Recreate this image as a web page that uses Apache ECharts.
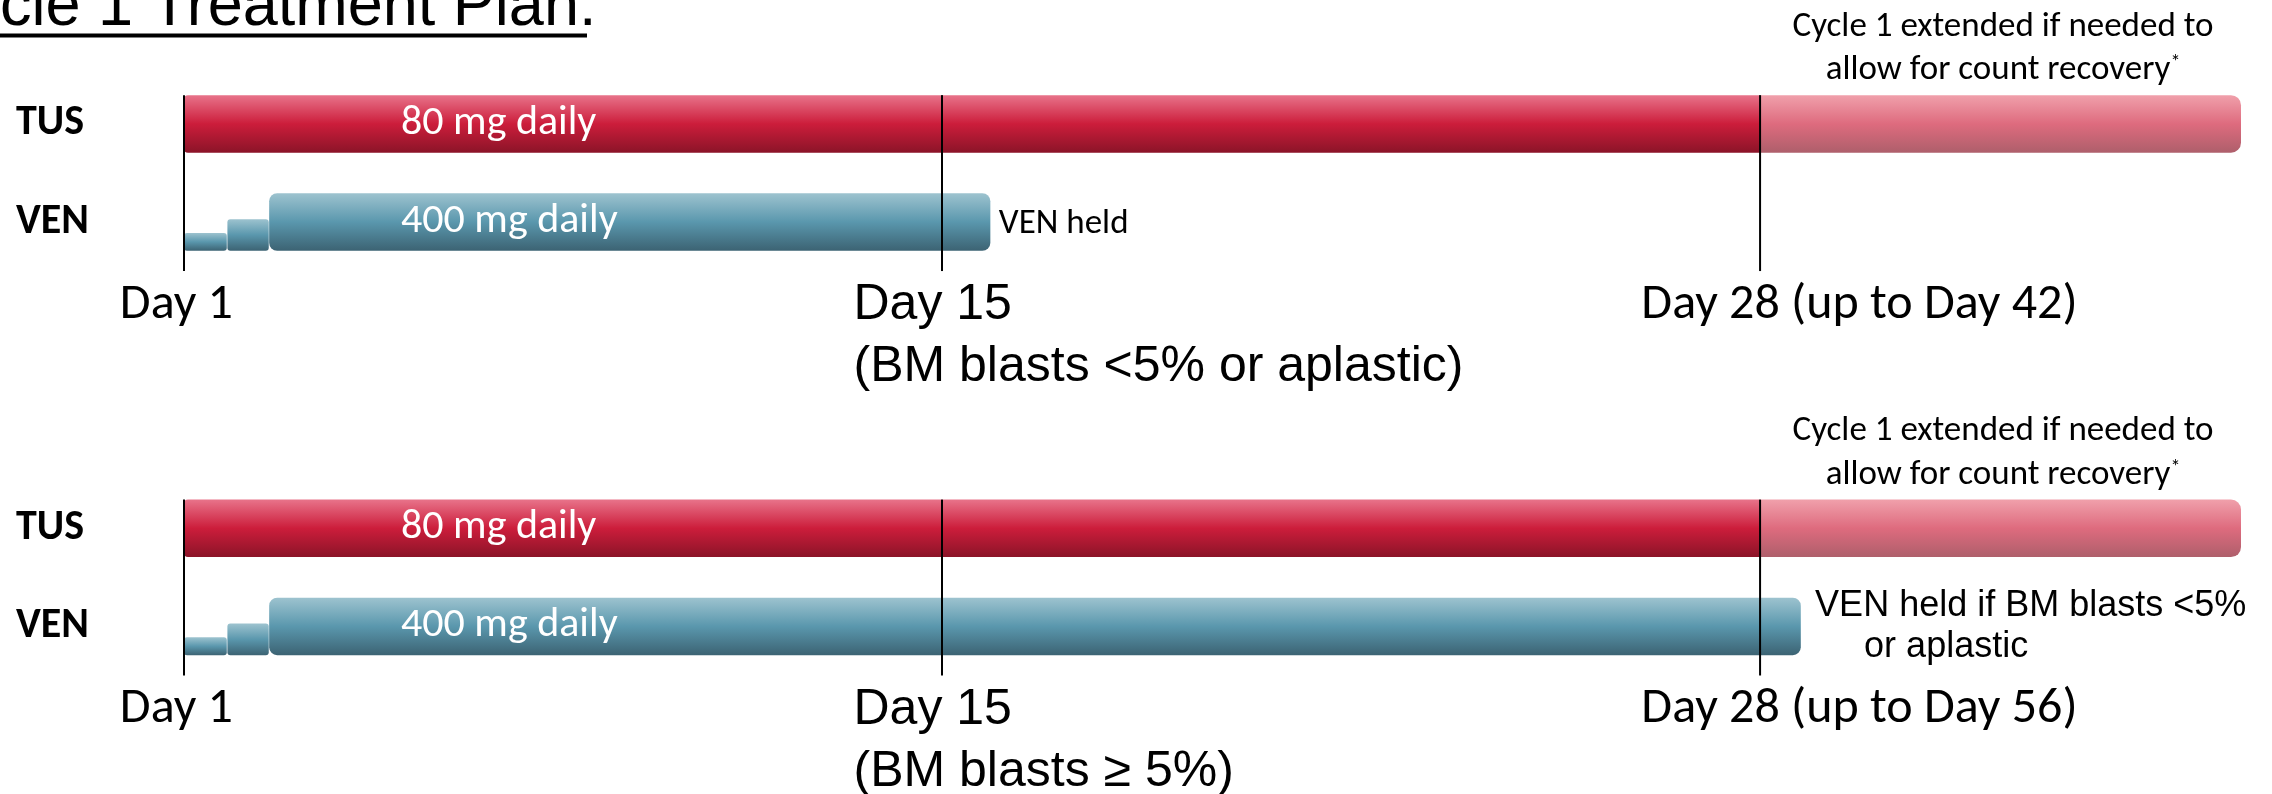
<!DOCTYPE html>
<html>
<head>
<meta charset="utf-8">
<script src="https://cdn.jsdelivr.net/npm/echarts@6/dist/echarts.min.js"></script>
<style>
  html, body { margin: 0; padding: 0; background: #ffffff; }
  #chart { width: 2272px; height: 794px; }
</style>
</head>
<body>
<div id="chart"></div>
<script>
// ---- plan data (timeline in schematic units: 0 = Day 1, 100 = end of the extension window) ----
const ROWS = ['TUS', 'VEN'];

const MILESTONE_POS = [0, 36.85, 76.62];
const MILESTONE_DAYS_A = ['Day 1', 'Day 15', 'Day 28 (up to Day 42)'];
const MILESTONE_NOTES_A = ['', '(BM blasts <5% or aplastic)', ''];
const MILESTONE_DAYS_B = ['Day 1', 'Day 15', 'Day 28 (up to Day 56)'];
const MILESTONE_NOTES_B = ['', '(BM blasts \u2265 5%)', ''];

const TUS_DOSE = [0, 76.62];
const TUS_EXTENSION = [76.62, 100];
const TUS_LABEL = '80 mg daily';
const EXTENSION_NOTE = ['Cycle 1 extended if needed to', 'allow for count recovery', '*'];

// VEN ramp-up: two short steps, then the full dose (relative step height per level)
const VEN_STEP_START = [0, 2.11, 4.14];
const VEN_STEP_END_A = [2.08, 4.12, 39.2];
const VEN_STEP_END_B = [2.08, 4.12, 78.6];
const VEN_STEP_LEVEL = [0.31, 0.55, 1];
const VEN_LABEL = '400 mg daily';
const VEN_NOTE_A = ['VEN held'];
const VEN_NOTE_B = ['VEN held if BM blasts <5%', 'or aplastic'];

const TITLE_TEXT = 'cle 1 Treatment Plan';

// ---- layout & styling ----
const SANS_C = 'Carlito, Lato, sans-serif';
const SANS_A = '"Liberation Sans", Arial, sans-serif';
const PANEL_TOP = [74.85, 479.3];
const PANEL_H = 196.2;
const GRID_LEFT = 184;
const GRID_RIGHT = 31;
const BAR_RATIO = 0.586;
const DOSE_LABEL_AT = 10.55;

const FILLS = {
  tus: () => new echarts.graphic.LinearGradient(0, 0, 0, 1, [
    { offset: 0, color: '#e8738a' }, { offset: 0.5, color: '#cc1d3b' }, { offset: 1, color: '#8b1428' }
  ]),
  ext: () => new echarts.graphic.LinearGradient(0, 0, 0, 1, [
    { offset: 0, color: '#f0a0ab' }, { offset: 0.5, color: '#de6b7e' }, { offset: 1, color: '#ae5f6b' }
  ]),
  ven: () => new echarts.graphic.LinearGradient(0, 0, 0, 1, [
    { offset: 0, color: '#9dc3cf' }, { offset: 0.5, color: '#5a97ad' }, { offset: 1, color: '#3c6373' }
  ])
};

// label placement per milestone: anchor, x offset from the line, y offsets from the axis bottom
const MILESTONE_LABEL_LAYOUT = [
  { align: 'center', dx: -7.6, dy: [34], family: SANS_C, size: 50 },
  { align: 'left', dx: -88.5, dy: [34.4, 96.4], family: SANS_A, size: 50 },
  { align: 'center', dx: 99.4, dy: [34], family: SANS_C, size: 50 }
];

function segmentsFor(venEnd, venNote) {
  const segs = [
    { row: 0, start: TUS_DOSE[0], end: TUS_DOSE[1], level: 1, fill: 'tus', r: [4, 0, 0, 4], label: TUS_LABEL },
    { row: 0, start: TUS_EXTENSION[0], end: TUS_EXTENSION[1], level: 1, fill: 'ext', r: [0, 10, 10, 0], extNote: true }
  ];
  VEN_STEP_START.forEach((s, i) => {
    const last = i === VEN_STEP_START.length - 1;
    segs.push({
      row: 1, start: s, end: venEnd[i], level: VEN_STEP_LEVEL[i], fill: 'ven',
      r: last ? 8 : 3,
      label: last ? VEN_LABEL : null,
      note: last ? venNote : null
    });
  });
  return segs;
}

function textEl(text, x, y, opt) {
  return {
    type: 'text',
    x: x, y: y,
    style: Object.assign({
      text: text,
      fill: '#000000',
      align: 'left',
      verticalAlign: 'middle'
    }, opt)
  };
}

function segmentRenderer(segs) {
  return function (params, api) {
    const seg = segs[params.dataIndex];
    const row = api.value(2);
    const a = api.coord([api.value(0), row]);
    const b = api.coord([api.value(1), row]);
    const fullH = api.size([0, 1])[1] * BAR_RATIO;
    const h = fullH * api.value(3);
    const barTop = a[1] + fullH / 2 - h;
    const children = [{
      type: 'rect',
      shape: { x: a[0], y: barTop, width: b[0] - a[0], height: h, r: seg.r },
      style: { fill: FILLS[seg.fill]() }
    }];
    if (seg.label) {
      const lx = api.coord([DOSE_LABEL_AT, row])[0];
      children.push(textEl(seg.label, lx, a[1] - 0.5, {
        fill: '#ffffff', fontFamily: SANS_C, fontSize: 42
      }));
    }
    if (seg.extNote) {
      const cx = (a[0] + b[0]) / 2 + 2.5;
      children.push(textEl(EXTENSION_NOTE[0], cx, barTop - 67.9, {
        align: 'center', fontFamily: SANS_C, fontSize: 35
      }));
      children.push({
        type: 'text', x: cx, y: barTop - 24.6,
        style: {
          text: '{m|' + EXTENSION_NOTE[1] + '}{s|' + EXTENSION_NOTE[2] + '}',
          align: 'center', verticalAlign: 'middle',
          rich: {
            m: { fontFamily: SANS_C, fontSize: 35, lineHeight: 35, fill: '#000000' },
            s: { fontFamily: SANS_C, fontSize: 20, lineHeight: 20, verticalAlign: 'top', fill: '#000000' }
          }
        }
      });
    }
    if (seg.note) {
      if (seg.note.length === 1) {
        children.push(textEl(seg.note[0], b[0] + 8.5, a[1] + 2, { fontFamily: SANS_C, fontSize: 35 }));
      } else {
        children.push(textEl(seg.note[0], b[0] + 14.3, a[1] - 20.6, { fontFamily: SANS_A, fontSize: 36 }));
        children.push(textEl(seg.note[1], b[0] + 63.3, a[1] + 21, { fontFamily: SANS_A, fontSize: 36 }));
      }
    }
    return { type: 'group', children: children };
  };
}

function milestoneRenderer(days, notes) {
  return function (params, api) {
    const i = params.dataIndex;
    const x = api.coord([api.value(0), 0])[0];
    const band = api.size([0, 1])[1];
    const top = api.coord([0, 0])[1] - band * BAR_RATIO / 2;
    const bottom = api.coord([0, 1])[1] + band / 2;
    const lay = MILESTONE_LABEL_LAYOUT[i];
    const children = [{
      type: 'line',
      shape: { x1: x, y1: top, x2: x, y2: bottom },
      style: { stroke: '#000000', lineWidth: 2 }
    }];
    const lines = [days[i]].concat(notes[i] ? [notes[i]] : []);
    lines.forEach((t, k) => {
      children.push(textEl(t, x + lay.dx, bottom + lay.dy[k], {
        align: lay.align, fontFamily: lay.family, fontSize: lay.size
      }));
    });
    return { type: 'group', children: children };
  };
}

const panels = [
  { segs: segmentsFor(VEN_STEP_END_A, VEN_NOTE_A), days: MILESTONE_DAYS_A, notes: MILESTONE_NOTES_A },
  { segs: segmentsFor(VEN_STEP_END_B, VEN_NOTE_B), days: MILESTONE_DAYS_B, notes: MILESTONE_NOTES_B }
];

const option = {
  animation: false,
  backgroundColor: '#ffffff',
  grid: panels.map((p, i) => ({
    left: GRID_LEFT, right: GRID_RIGHT, top: PANEL_TOP[i], height: PANEL_H, containLabel: false
  })),
  xAxis: panels.map((p, i) => ({
    type: 'value', gridIndex: i, min: 0, max: 100, show: false
  })),
  yAxis: panels.map((p, i) => ({
    type: 'category', gridIndex: i, data: ROWS, inverse: true,
    axisLine: { show: false }, axisTick: { show: false }, splitLine: { show: false },
    axisLabel: {
      align: 'left', margin: 168, color: '#000000',
      fontFamily: SANS_C, fontWeight: 'bold', fontSize: 42
    }
  })),
  series: [].concat(...panels.map((p, i) => [
    {
      type: 'custom', xAxisIndex: i, yAxisIndex: i, clip: false, z: 2,
      encode: { x: [0, 1], y: 2 },
      data: p.segs.map(s => [s.start, s.end, s.row, s.level]),
      renderItem: segmentRenderer(p.segs)
    },
    {
      type: 'custom', xAxisIndex: i, yAxisIndex: i, clip: false, z: 3,
      encode: { x: 0, y: 1 },
      data: MILESTONE_POS.map(v => [v, 0]),
      renderItem: milestoneRenderer(p.days, p.notes)
    }
  ])),
  graphic: [
    {
      type: 'text', x: 0, y: 7.5,
      style: { text: TITLE_TEXT + ':', fontFamily: SANS_A, fontSize: 63, fill: '#000000', verticalAlign: 'middle' }
    },
    {
      type: 'line',
      shape: { x1: 0, y1: 35.5, x2: 587, y2: 35.5 },
      style: { stroke: '#000000', lineWidth: 4 }
    }
  ]
};

const chart = echarts.init(document.getElementById('chart'), null, { renderer: 'canvas' });
chart.setOption(option);
</script>
</body>
</html>
